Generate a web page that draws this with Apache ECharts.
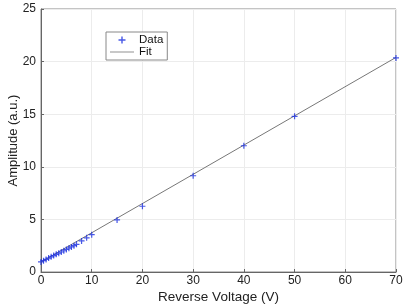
<!DOCTYPE html>
<html><head><meta charset="utf-8">
<script src="https://cdn.jsdelivr.net/npm/echarts@6/dist/echarts.min.js"></script>
<style>html,body{margin:0;padding:0;background:#fff}#c{width:407px;height:305px}</style>
</head><body><div id="c"></div>
<script>
var voltage = [0,0.5,1,1.5,2,2.5,3,3.5,4,4.5,5,5.5,6,6.5,7,8,9,10,15,20,30,40,50,70];
var amplitude = [0.96,1.08,1.2,1.32,1.44,1.56,1.68,1.79,1.9,2.02,2.14,2.26,2.38,2.5,2.63,2.95,3.25,3.55,4.95,6.25,9.15,12.0,14.8,20.35];
var fitX = [0,70];
var fitY = [0.95,20.4];
var xTicks = [0,10,20,30,40,50,60,70];
var yTicks = [0,5,10,15,20,25];

var font = 'Liberation Sans, Arial, Helvetica, sans-serif';
var plus = 'path://M4,0H6V4H10V6H6V10H4V6H0V4H4Z';
var chart = echarts.init(document.getElementById('c'), null, {renderer:'canvas'});
var axisCommon = {
  axisLine:{show:true, lineStyle:{color:'#666', width:1}},
  axisTick:{show:true, inside:true, length:3, lineStyle:{color:'#666'}},
  splitLine:{show:true, lineStyle:{color:'#ececec', width:1}},
  axisLabel:{color:'#222', fontFamily:font, fontSize:12}
};
chart.setOption({
  animation:false,
  grid:{left:41, right:11, top:9, bottom:33, containLabel:false, outerBoundsMode:'none', show:true, borderColor:'#888', borderWidth:1},
  legend:{
    left:106, top:32, orient:'vertical', itemGap:0, padding:[2,4,2,4],
    backgroundColor:'#fff', borderColor:'#888', borderWidth:1, borderRadius:0,
    textStyle:{fontFamily:font, fontSize:11.5, color:'#111'},
    itemWidth:24, itemHeight:7,
    data:[{name:'Data', icon:plus, itemStyle:{color:'#1a2ee0'}}, {name:'Fit', icon:'path://M0,4.5H30V5.5H0Z', itemStyle:{color:'#777'}}]
  },
  xAxis:Object.assign({}, axisCommon, {
    type:'value', min:xTicks[0], max:xTicks[xTicks.length-1], interval:10,
    name:'Reverse Voltage (V)', nameLocation:'middle', nameGap:18, nameMoveOverlap:false,
    nameTextStyle:{fontFamily:font, fontSize:13.5, color:'#222'},
    axisLabel:Object.assign({}, axisCommon.axisLabel, {margin:3})
  }),
  yAxis:Object.assign({}, axisCommon, {
    type:'value', min:yTicks[0], max:yTicks[yTicks.length-1], interval:5,
    name:'Amplitude (a.u.)', nameLocation:'middle', nameGap:21, nameMoveOverlap:false,
    nameTextStyle:{fontFamily:font, fontSize:13, color:'#222'},
    axisLabel:Object.assign({}, axisCommon.axisLabel, {margin:5})
  }),
  series:[
    {name:'Fit', type:'line', data:fitX.map(function(x,i){return [x,fitY[i]];}),
     showSymbol:false, symbol:'none', lineStyle:{color:'#777', width:1}, z:2},
    {name:'Data', type:'scatter', data:voltage.map(function(x,i){return [x,amplitude[i]];}),
     symbol:plus, symbolSize:6, itemStyle:{color:'#1a2ee0'}, z:3}
  ]
});
</script></body></html>
